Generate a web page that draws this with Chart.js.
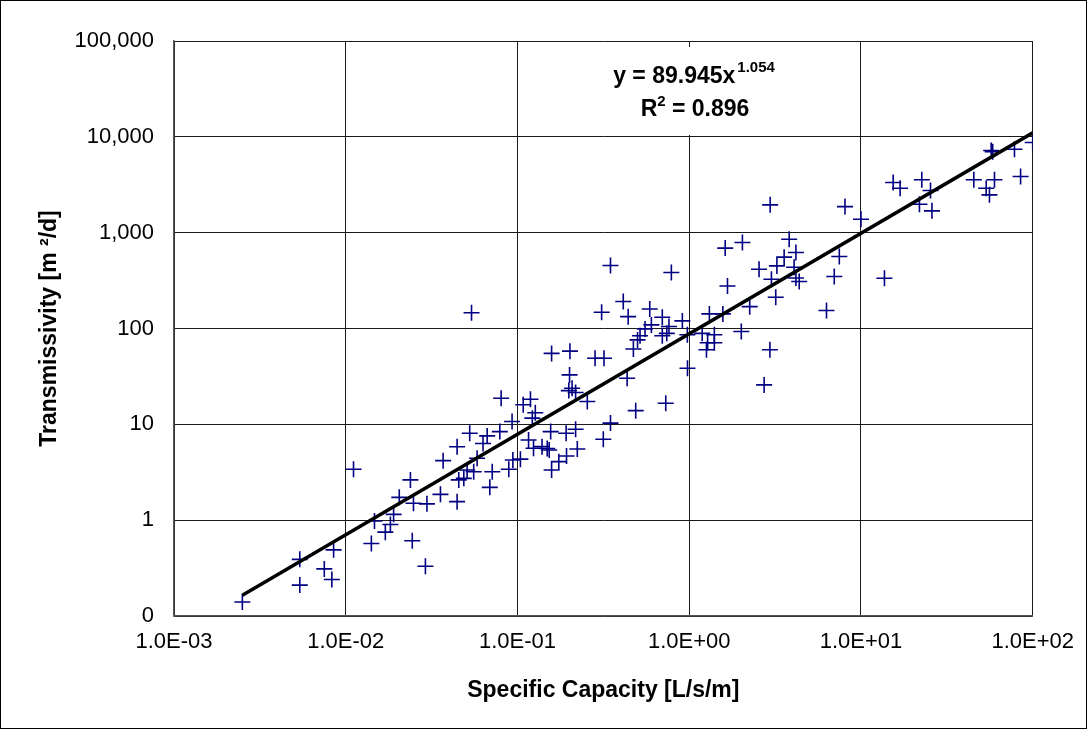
<!DOCTYPE html>
<html>
<head>
<meta charset="utf-8">
<script src="https://cdn.jsdelivr.net/npm/chart.js@4/dist/chart.umd.min.js"></script>
<style>
  html, body { margin: 0; padding: 0; background: #fff; }
  #wrap { position: relative; width: 1087px; height: 729px; }
</style>
</head>
<body>
<div id="wrap"><canvas id="chart" width="1087" height="729"></canvas></div>
<script>
// ─── DONNÉES ──────────────────────────────────────────────────────────────
// capacité spécifique [L/s/m]
const specificCapacity = [
    0.0025, 0.0054, 0.0054, 0.0075, 0.0083, 0.0085, 0.0111, 0.0141, 0.0147, 0.017,
    0.0182, 0.019, 0.0205, 0.0238, 0.0244, 0.0248, 0.0291, 0.0297, 0.0356, 0.0369,
    0.0445, 0.0445, 0.0455, 0.0487, 0.0509, 0.0527, 0.054, 0.0556, 0.0582, 0.063,
    0.0666, 0.069, 0.0713, 0.0789, 0.0803, 0.089, 0.093, 0.094, 0.104, 0.108,
    0.116, 0.119, 0.122, 0.124, 0.127, 0.139, 0.149, 0.153, 0.156, 0.158,
    0.158, 0.174, 0.192, 0.193, 0.199, 0.201, 0.202, 0.208, 0.218, 0.218,
    0.223, 0.255, 0.283, 0.309, 0.316, 0.319, 0.348, 0.348, 0.413, 0.435,
    0.441, 0.473, 0.488, 0.5, 0.517, 0.553, 0.589, 0.602, 0.697, 0.697,
    0.73, 0.74, 0.762, 0.787, 0.912, 0.975, 0.977, 1.19, 1.26, 1.28,
    1.31, 1.4, 1.4, 1.57, 1.62, 1.67, 2.01, 2.04, 2.25, 2.55,
    2.73, 2.95, 2.96, 3.01, 3.19, 3.24, 3.57, 3.82, 4.08, 4.18,
    4.18, 4.37, 6.3, 6.99, 7.48, 8.07, 10, 13.7, 15.4, 16.9,
    21.9, 22.6, 25.4, 25.9, 45.4, 53.6, 56, 57.3, 58.5, 59.9,
    78.3, 85, 100
];
// transmissivité [m2/d]
const transmissivity = [
    0.14, 0.39, 0.21, 0.31, 0.24, 0.49, 3.4, 0.57, 0.98, 0.75,
    0.9, 1.15, 1.73, 2.63, 0.61, 1.5, 0.33, 1.48, 1.86, 4.18,
    1.56, 5.84, 2.63, 2.73, 3.34, 8.07, 146, 3.2, 4.42, 6.3,
    7.57, 2.2, 3.2, 8.4, 18.7, 3.4, 10.7, 4.25, 4.33, 16,
    6.87, 18.3, 11.6, 5.63, 13.2, 5.85, 5.6, 5.4, 8.4, 3.34,
    55, 4.08, 8.07, 4.68, 22.5, 32.8, 58, 23.8, 21.5, 8.9,
    5.53, 17.3, 49, 148, 7.0, 49, 10.3, 454, 191, 30.3,
    133, 61, 13.9, 76, 84, 99, 160, 109, 131, 84,
    16.6, 89, 105, 384, 120, 86, 38.5, 89, 60, 71,
    142, 86, 71, 142, 690, 278, 93, 790, 169, 415,
    25.8, 60, 1950, 327, 212, 450, 555, 855, 436, 620,
    337, 309, 154, 349, 564, 1870, 1380, 335, 3340, 2910,
    1980, 3560, 2750, 1690, 3560, 2910, 2480, 7190, 7000, 3560,
    7430, 3860, 8730
];

// courbe de tendance (extrémités)
const trendX = [0.0025, 100];
const trendY = [0.165, 11000];

// graduations
const xTicks = [0.001, 0.01, 0.1, 1, 10, 100];
const xTickLabels = ['1.0E-03', '1.0E-02', '1.0E-01', '1.0E+00', '1.0E+01', '1.0E+02'];
const yTicks = [0.1, 1, 10, 100, 1000, 10000, 100000];
const yTickLabels = ['0', '1', '10', '100', '1,000', '10,000', '100,000'];

const FONT = "'Liberation Sans', Arial, sans-serif";

// ─── ÉQUATION + CADRE ─────────────────────────────────────────────────────
const annotationPlugin = {
    id: 'equation',
    afterDraw(chart) {
        const c = chart.ctx;
        c.save();
        // cadre extérieur
        c.strokeStyle = '#000';
        c.lineWidth = 1;
        c.strokeRect(0.5, 0.5, 1086, 728);

        // fond blanc de l'étiquette
        c.fillStyle = '#fff';
        c.fillRect(600, 47, 190, 88);

        const big = 'bold 23px ' + FONT;
        const small = 'bold 15px ' + FONT;
        c.fillStyle = '#000';
        c.textBaseline = 'alphabetic';
        c.textAlign = 'left';

        // ligne 1 : y = 89.945x^1.054
        c.font = big;
        const t1 = 'y = 89.945x';
        const w1 = c.measureText(t1).width;
        c.font = small;
        const s1 = '1.054';
        const ws1 = c.measureText(s1).width;
        let x0 = 694 - (w1 + 2 + ws1) / 2;
        c.font = big;
        c.fillText(t1, x0, 83);
        c.font = small;
        c.fillText(s1, x0 + w1 + 2, 72);

        // ligne 2 : R² = 0.896
        c.font = big;
        const r = 'R';
        const wr = c.measureText(r).width;
        const t2 = ' = 0.896';
        const w2 = c.measureText(t2).width;
        c.font = small;
        const ws2 = c.measureText('2').width;
        x0 = 695 - (wr + ws2 + w2) / 2;
        c.font = big;
        c.fillText(r, x0, 116);
        c.font = small;
        c.fillText('2', x0 + wr, 106);
        c.font = big;
        c.fillText(t2, x0 + wr + ws2, 116);
        c.restore();
    }
};

// ─── GRAPHIQUE ────────────────────────────────────────────────────────────
const ctx = document.getElementById('chart').getContext('2d');

const points = specificCapacity.map((x, i) => ({ x: x, y: transmissivity[i] }));
const trend = trendX.map((x, i) => ({ x: x, y: trendY[i] }));

new Chart(ctx, {
    type: 'scatter',
    data: {
        datasets: [
            {
                label: 'Tendance',
                type: 'line',
                data: trend,
                borderColor: '#000',
                borderWidth: 3.5,
                pointRadius: 0,
                fill: false,
                order: 0
            },
            {
                label: 'Puits',
                data: points,
                pointStyle: 'cross',
                pointRadius: 8,
                pointHoverRadius: 8,
                borderColor: '#000080',
                backgroundColor: '#000080',
                pointBorderWidth: 1.6,
                order: 1
            }
        ]
    },
    options: {
        responsive: false,
        animation: false,
        layout: { padding: { left: 0, right: 48, top: 41, bottom: 0 } },
        scales: {
            x: {
                type: 'logarithmic',
                min: 0.001, max: 100,
                afterBuildTicks: s => { s.ticks = xTicks.map(v => ({ value: v, major: true })); },
                afterFit: s => { s.height = 113; },
                ticks: {
                    autoSkip: false, maxRotation: 0, padding: 13,
                    color: '#000',
                    font: { family: FONT, size: 22 },
                    callback: (v, i) => xTickLabels[i]
                },
                grid: { color: '#1a1a1a', lineWidth: 1, drawTicks: false },
                border: { color: '#555', width: 1.5 },
                title: {
                    display: true,
                    text: 'Specific Capacity [L/s/m]',
                    color: '#000',
                    font: { family: FONT, size: 23, weight: 'bold' },
                    padding: { top: 0, bottom: 25 }
                }
            },
            y: {
                type: 'logarithmic',
                min: 0.1, max: 100000,
                afterBuildTicks: s => { s.ticks = yTicks.map(v => ({ value: v, major: true })); },
                afterFit: s => { s.width = 174; },
                ticks: {
                    autoSkip: false, padding: 20,
                    color: '#000',
                    font: { family: FONT, size: 22 },
                    callback: (v, i) => yTickLabels[i]
                },
                grid: { color: '#1a1a1a', lineWidth: 1, drawTicks: false },
                border: { color: '#555', width: 1.5 },
                title: {
                    display: true,
                    text: 'Transmissivity [m \u00b2/d]',
                    color: '#000',
                    font: { family: FONT, size: 23, weight: 'bold' },
                    padding: { top: 36, bottom: 0 }
                }
            }
        },
        plugins: {
            legend: { display: false },
            tooltip: { enabled: false }
        }
    },
    plugins: [annotationPlugin]
});
</script>
</body>
</html>
